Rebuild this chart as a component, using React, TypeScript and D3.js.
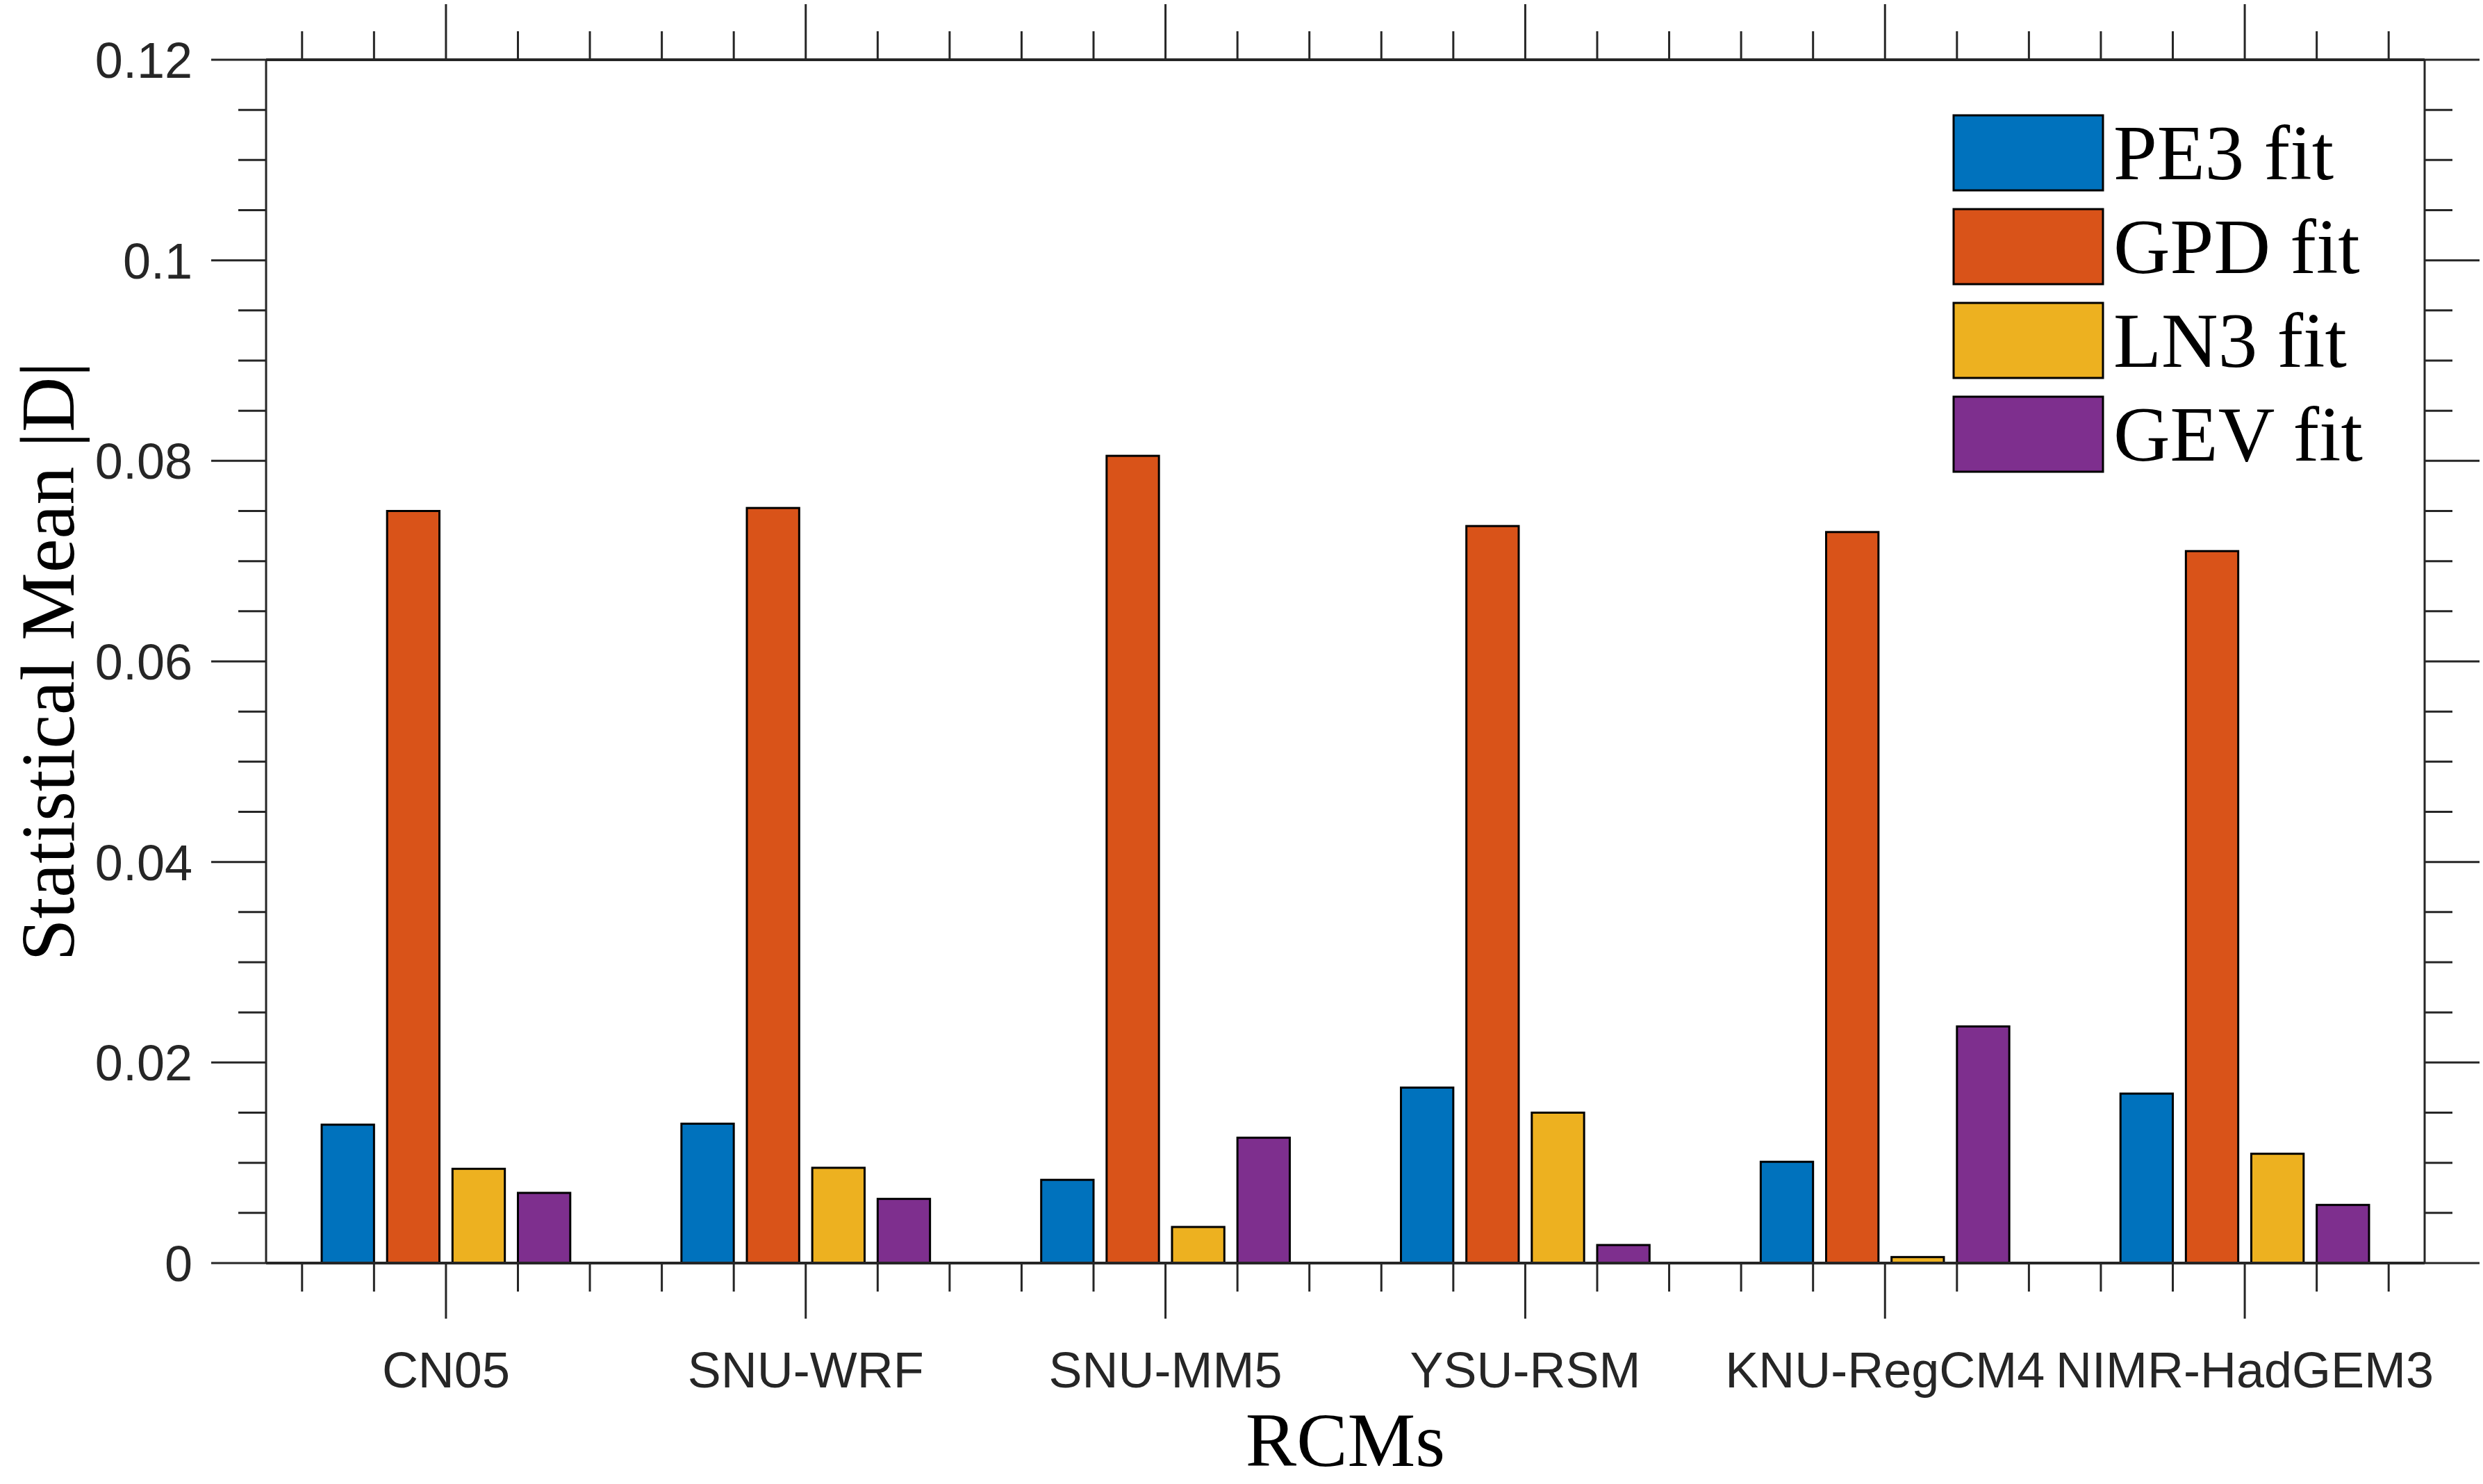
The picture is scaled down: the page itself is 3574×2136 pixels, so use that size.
import { useEffect, useRef } from "react"
import * as d3 from "d3"

// data
const categories = ["CN05", "SNU-WRF", "SNU-MM5", "YSU-RSM", "KNU-RegCM4", "NIMR-HadGEM3"]
const seriesNames = ["PE3 fit", "GPD fit", "LN3 fit", "GEV fit"]
const pe3Values = [0.0138, 0.0139, 0.0083, 0.0175, 0.0101, 0.0169]
const gpdValues = [0.075, 0.0753, 0.0805, 0.0735, 0.0729, 0.071]
const ln3Values = [0.0094, 0.0095, 0.0036, 0.015, 0.0006, 0.0109]
const gevValues = [0.007, 0.0064, 0.0125, 0.0018, 0.0236, 0.0058]
const yTicks = [0, 0.02, 0.04, 0.06, 0.08, 0.1, 0.12]
const yTickLabels = ["0", "0.02", "0.04", "0.06", "0.08", "0.1", "0.12"]
const colors = ["#0072BD", "#D95319", "#EDB120", "#7E2F8E"]

const W = 3574
const H = 2136

export default function App() {
  const svgRef = useRef<SVGSVGElement>(null)

  useEffect(() => {
    if (!svgRef.current) return
    const svg = d3.select(svgRef.current)
    svg.selectAll("*").remove()
    svg.attr("width", W).attr("height", H)

    const left = 383
    const right = 3490
    const top = 86
    const bottom = 1818
    const axisColor = "#262626"
    const sansFont = "'Liberation Sans', Arial, sans-serif"
    const serifFont = "'Liberation Serif', 'Times New Roman', serif"

    const x = d3.scaleLinear().domain([0.5, categories.length + 0.5]).range([left, right])
    const y = d3.scaleLinear().domain([0, 0.12]).range([bottom, top])

    svg.append("rect").attr("width", W).attr("height", H).attr("fill", "#fff")

    // MATLAB-like grouped bars
    const series = [pe3Values, gpdValues, ln3Values, gevValues]
    const groupWidth = Math.min(0.8, series.length / (series.length + 1.5))
    const slot = groupWidth / series.length
    const barW = slot * 0.8

    series.forEach((vals, si) => {
      const off = (si - (series.length - 1) / 2) * slot
      svg
        .append("g")
        .selectAll("rect")
        .data(vals)
        .enter()
        .append("rect")
        .attr("x", (d, i) => x(i + 1 + off - barW / 2))
        .attr("width", x(barW) - x(0))
        .attr("y", (d) => y(d))
        .attr("height", (d) => y(0) - y(d))
        .attr("fill", colors[si])
        .attr("stroke", "#000")
        .attr("stroke-width", 3)
    })

    // ticks
    const minorY = d3.range(0, 25).map((i) => i * 0.005)
    const minorX = d3.range(0, 30).map((i) => 0.6 + i * 0.2)
    const ticks = svg.append("g").attr("stroke", axisColor).attr("stroke-width", 3)
    minorY.forEach((v) => {
      const major = Math.abs(Math.round(v / 0.02) * 0.02 - v) < 1e-9
      const len = major ? 79 : 40
      ticks.append("line").attr("x1", left - len).attr("x2", left).attr("y1", y(v)).attr("y2", y(v))
      ticks.append("line").attr("x1", right).attr("x2", right + len).attr("y1", y(v)).attr("y2", y(v))
    })
    minorX.forEach((v) => {
      const major = Math.abs(Math.round(v) - v) < 1e-9
      const len = major ? 80 : 41
      ticks.append("line").attr("x1", x(v)).attr("x2", x(v)).attr("y1", bottom).attr("y2", bottom + len)
      ticks.append("line").attr("x1", x(v)).attr("x2", x(v)).attr("y1", top - len).attr("y2", top)
    })

    // box
    const box = svg.append("g").attr("stroke", axisColor).attr("fill", "none")
    box.append("line").attr("x1", left).attr("x2", left).attr("y1", top).attr("y2", bottom).attr("stroke-width", 3)
    box.append("line").attr("x1", right).attr("x2", right).attr("y1", top).attr("y2", bottom).attr("stroke-width", 3)
    box.append("line").attr("x1", left).attr("x2", right).attr("y1", top).attr("y2", top).attr("stroke-width", 4)
    box.append("line").attr("x1", left).attr("x2", right).attr("y1", bottom).attr("y2", bottom).attr("stroke-width", 4)

    // y tick labels
    svg
      .append("g")
      .selectAll("text")
      .data(yTicks)
      .enter()
      .append("text")
      .attr("x", 277)
      .attr("y", (d) => y(d))
      .attr("dy", "0.36em")
      .attr("text-anchor", "end")
      .attr("fill", axisColor)
      .style("font-family", sansFont)
      .style("font-size", "72px")
      .text((d, i) => yTickLabels[i])

    // category labels
    svg
      .append("g")
      .selectAll("text")
      .data(categories)
      .enter()
      .append("text")
      .attr("x", (d, i) => x(i + 1))
      .attr("y", 1997)
      .attr("text-anchor", "middle")
      .attr("fill", axisColor)
      .style("font-family", sansFont)
      .style("font-size", "72px")
      .text((d) => d)

    // axis titles
    svg
      .append("text")
      .attr("transform", `translate(106, ${(top + bottom) / 2}) rotate(-90)`)
      .attr("text-anchor", "middle")
      .attr("fill", "#000")
      .style("font-family", serifFont)
      .style("font-size", "110px")
      .text("Statistical Mean |D|")

    svg
      .append("text")
      .attr("x", (left + right) / 2)
      .attr("y", 2110)
      .attr("text-anchor", "middle")
      .attr("fill", "#000")
      .style("font-family", serifFont)
      .style("font-size", "110px")
      .text("RCMs")

    // legend
    const legend = svg
      .append("g")
      .selectAll("g")
      .data(seriesNames)
      .enter()
      .append("g")
      .attr("transform", (d, i) => `translate(2812, ${166 + i * 135})`)

    legend
      .append("rect")
      .attr("width", 215)
      .attr("height", 108)
      .attr("fill", (d, i) => colors[i])
      .attr("stroke", "#000")
      .attr("stroke-width", 3)

    legend
      .append("text")
      .attr("x", 230)
      .attr("y", 92)
      .attr("fill", "#000")
      .style("font-family", serifFont)
      .style("font-size", "113px")
      .text((d) => d)
  }, [])

  return (
    <div style={{ position: "absolute", left: 0, top: 0 }}>
      <svg ref={svgRef} style={{ display: "block" }} />
    </div>
  )
}
